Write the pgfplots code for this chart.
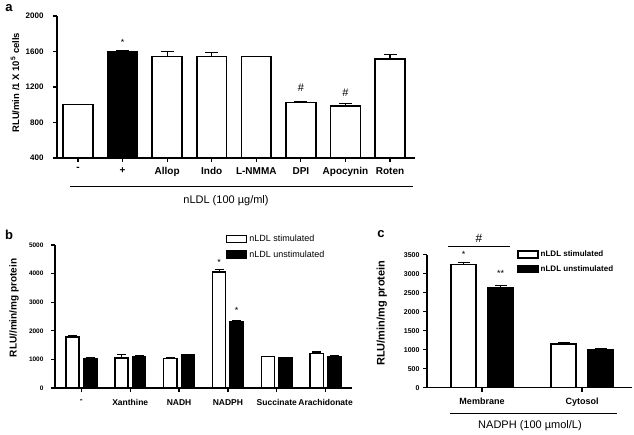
\documentclass[border=0pt]{standalone}
\usepackage{pgfplots}
\pgfplotsset{compat=1.18}
\usepackage{fontspec}
\setmainfont{Liberation Sans}
\newcommand{\fs}[1]{\fontsize{#1}{#1}\selectfont}
\pgfplotsset{
  panel/.style={scale only axis, anchor=south west, axis x line*=bottom, axis y line*=left,
    axis line style={line width=1.5pt,-}, tick style={line width=1.2pt,black},
    major tick length=4pt, tick align=outside, clip mode=individual, scaled y ticks=false,
    /pgf/number format/assume math mode=true, /pgf/number format/1000 sep={}, ybar},
  wbar/.style={fill=white, draw=black, line width=1.5pt,
    legend image code/.code={\draw[fill=white,draw=black,line width=1.3pt] (0pt,-3.5pt) rectangle (20pt,3.5pt);}},
  kbar/.style={fill=black, draw=black, line width=1.5pt,
    legend image code/.code={\draw[fill=black,draw=black,line width=1.3pt] (0pt,-3.5pt) rectangle (20pt,3.5pt);}},
  eb/.style={error bars/.cd, y dir=plus, y explicit, error bar style={line width=1.2pt,black},
    error mark options={rotate=90,line width=1.2pt,black,mark size=#1}},
}
\begin{document}
\begin{tikzpicture}
\path[use as bounding box] (0pt,0pt) rectangle (634pt,434pt);
% ---------- panel a
\begin{axis}[panel, at={(57pt,276pt)}, width=358pt, height=142pt,
  xmin=-0.47, xmax=7.56, ymin=400, ymax=2000, ytick={400,800,1200,1600,2000},
  xtick={0,...,7}, xticklabels={-,+,Allop,Indo,L-NMMA,DPI,Apocynin,Roten},
  xticklabel style={font=\bfseries\fs{10}, yshift=-2pt},
  yticklabel style={font=\bfseries\fs{8}, xshift=-6pt},
  ylabel={RLU/min /1 X 10\textsuperscript{5} cells},
  every axis y label/.style={at={(axis description cs:-0.117,0.53)}, rotate=90, anchor=center, font=\bfseries\fs{9.5}}]
\addplot[wbar, bar width=0.67, bar shift=0, eb=6.5pt] coordinates {
 (0,1000) +- (0,0) (2,1545) +- (0,55) (3,1545) +- (0,45) (4,1545) +- (0,0)
 (5,1025) +- (0,12) (6,985) +- (0,25) (7,1515) +- (0,50)};
\addplot[kbar, bar width=0.67, bar shift=0, eb=6.5pt] coordinates {(1,1600) +- (0,12)};
\node[font=\fs{9}] at (axis cs:1,1700) {*};
\node[font=\fs{11}] at (axis cs:5,1189) {\#};
\node[font=\fs{11}] at (axis cs:6,1132) {\#};
\end{axis}
% ---------- panel b
\begin{axis}[panel, at={(55pt,46pt)}, width=297pt, height=143pt,
  xmin=-0.54, xmax=5.54, ymin=0, ymax=5000, ytick={0,1000,...,5000},
  xtick={0,...,5}, xticklabels={-,Xanthine,NADH,NADPH,Succinate,Arachidonate},
  xticklabel style={font=\bfseries\fs{8.5}, yshift=-4pt},
  yticklabel style={font=\bfseries\fs{6.5}, xshift=-4pt},
  ylabel={RLU//min/mg protein},
  every axis y label/.style={at={(axis description cs:-0.138,0.56)}, rotate=90, anchor=center, font=\bfseries\fs{10}},
  legend style={draw=none, fill=none, at={(0.575,1.085)}, anchor=north west, font=\fs{9},
    inner sep=0pt, row sep=3.5pt, /tikz/every even column/.append style={column sep=7pt}},
  legend cell align=left]
\addplot[wbar, bar width=0.27, bar shift=-0.18, eb=4.5pt] coordinates {
 (0,1790) +- (0,40) (1,1050) +- (0,130) (2,1030) +- (0,20) (3,4060) +- (0,70)
 (4,1100) +- (0,15) (5,1210) +- (0,50)};
\addplot[kbar, bar width=0.27, bar shift=0.18, eb=4.5pt] coordinates {
 (0,1040) +- (0,20) (1,1110) +- (0,40) (2,1150) +- (0,20) (3,2310) +- (0,40)
 (4,1060) +- (0,15) (5,1110) +- (0,10)};
\legend{nLDL stimulated, nLDL unstimulated}
\node[font=\fs{9}] at (axis cs:2.82,4380) {*};
\node[font=\fs{9}] at (axis cs:3.18,2700) {*};
\end{axis}
% ---------- panel c
\begin{axis}[panel, at={(427pt,46.3pt)}, width=205pt, height=133pt,
  xmin=-0.55, xmax=1.5, ymin=0, ymax=3500, ytick={0,500,...,3500},
  xtick={0,1}, xticklabels={Membrane,Cytosol},
  xticklabel style={font=\bfseries\fs{9}, yshift=-3pt},
  yticklabel style={font=\bfseries\fs{7}},
  ylabel={RLU/min/mg protein},
  every axis y label/.style={at={(axis description cs:-0.22,0.56)}, rotate=90, anchor=center, font=\bfseries\fs{11}},
  legend style={draw=none, fill=none, at={(0.44,1.045)}, anchor=north west, font=\bfseries\fs{8},
    inner sep=0pt, row sep=3pt, /tikz/every even column/.append style={column sep=6pt}},
  legend cell align=left]
\addplot[wbar, bar width=0.25, bar shift=-0.185, eb=6pt] coordinates {
 (0,3240) +- (0,45) (1,1155) +- (0,40)};
\addplot[kbar, bar width=0.25, bar shift=0.185, eb=6pt] coordinates {
 (0,2620) +- (0,60) (1,1005) +- (0,15)};
\legend{nLDL stimulated, nLDL unstimulated}
\node[font=\fs{9}] at (axis cs:-0.185,3520) {*};
\node[font=\fs{9}] at (axis cs:0.185,3000) {**};
\draw[line width=0.8pt] (axis cs:-0.34,3729) -- (axis cs:0.28,3729);
\node[font=\fs{12}] at (axis cs:-0.03,3940) {\#};
\end{axis}
% ---------- captions and panel letters
\draw[line width=0.8pt] (70pt,248pt) -- (413pt,248pt);
\node[font=\fs{11}] at (226pt,233pt) {nLDL (100 µg/ml)};
\draw[line width=0.8pt] (450pt,21pt) -- (617pt,21pt);
\node[font=\fs{11}] at (530pt,8pt) {NADPH (100 µmol/L)};
\node[font=\bfseries\fs{13}] at (9pt,426pt) {a};
\node[font=\bfseries\fs{13}] at (9pt,199pt) {b};
\node[font=\bfseries\fs{13}] at (381pt,200pt) {c};
\end{tikzpicture}
\end{document}
